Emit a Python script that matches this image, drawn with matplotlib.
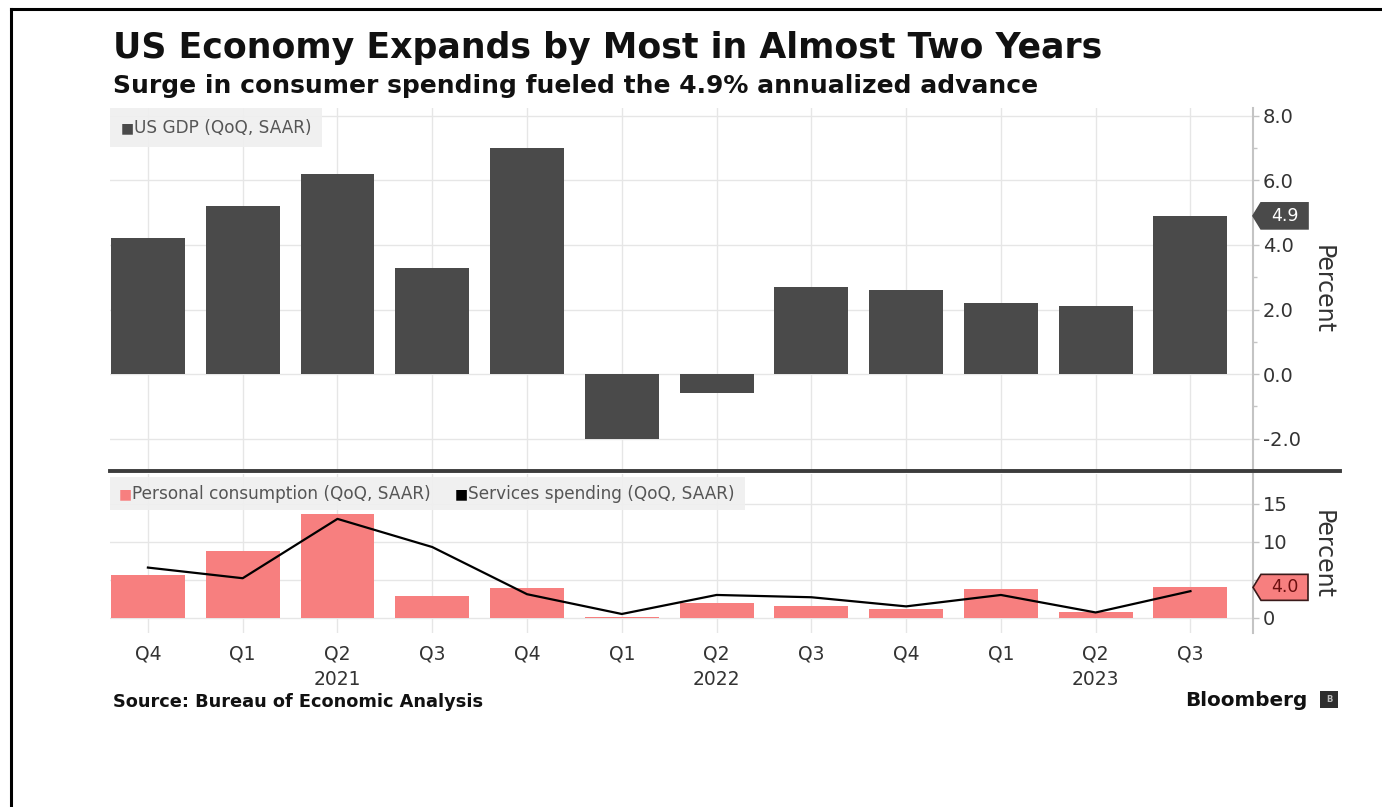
import matplotlib
matplotlib.use("Agg")
import matplotlib.pyplot as plt
import matplotlib.transforms as mtransforms
from matplotlib.patches import Polygon, Rectangle
from matplotlib.lines import Line2D
from matplotlib.ticker import MultipleLocator
import numpy as np

# --- Data ---
QUARTERS = ["Q4", "Q1", "Q2", "Q3", "Q4", "Q1", "Q2", "Q3", "Q4", "Q1", "Q2", "Q3"]
YEARS = ["", "", "2021", "", "", "", "2022", "", "", "", "2023", ""]
GDP = [4.2, 5.2, 6.2, 3.3, 7.0, -2.0, -0.6, 2.7, 2.6, 2.2, 2.1, 4.9]
CONSUMPTION = [5.6, 8.8, 13.6, 2.8, 3.9, 0.1, 2.0, 1.6, 1.2, 3.8, 0.8, 4.0]
SERVICES = [6.6, 5.2, 13.0, 9.3, 3.1, 0.5, 3.0, 2.7, 1.5, 3.0, 0.7, 3.5]

TITLE = "US Economy Expands by Most in Almost Two Years"
SUBTITLE = "Surge in consumer spending fueled the 4.9% annualized advance"
SOURCE = "Source: Bureau of Economic Analysis"

# --- Style ---
W, H = 1382, 807
DARK = "#4a4a4a"
PINK = "#f77f7f"
GRID = "#e6e6e6"
SPINE = "#c4c4c4"
TEXT = "#333333"


def fx(px):
    return px / W


def fy(py):
    return 1 - py / H


def value_tag(fig, ax, value, label, face, edge, text_color):
    # Bloomberg style last-value tag sitting on the right axis
    x0, y0 = ax.transData.transform((ax.get_xlim()[1], value))
    hh, depth, width = 13, 8, 55
    verts = [(x0, y0), (x0 + depth, y0 + hh), (x0 + width, y0 + hh),
             (x0 + width, y0 - hh), (x0 + depth, y0 - hh)]
    fig.add_artist(Polygon(verts, closed=True, facecolor=face, edgecolor=edge,
                           lw=1.2, transform=mtransforms.IdentityTransform(), zorder=5))
    fig.text((x0 + depth / 2 + width / 2) / W, y0 / H, label, ha="center", va="center",
             fontsize=12.5, color=text_color, zorder=6)


fig = plt.figure(figsize=(W / 100, H / 100), dpi=100)
fig.patch.set_facecolor("white")

# outer frame (left and top edges only)
fig.add_artist(Line2D([fx(11), fx(11)], [0, fy(9)], color="black", lw=2.2))
fig.add_artist(Line2D([fx(11), 1], [fy(9), fy(9)], color="black", lw=2.2))

x = np.arange(len(QUARTERS))
ax1 = fig.add_axes([fx(110), fy(470), (1253 - 110) / W, (470 - 108) / H])
ax2 = fig.add_axes([fx(110), fy(633), (1253 - 110) / W, (633 - 474) / H])

for ax in (ax1, ax2):
    ax.set_xlim(-0.4, 11.66)
    for s in ("left", "top", "bottom"):
        ax.spines[s].set_visible(False)
    ax.spines["right"].set_color(SPINE)
    ax.spines["right"].set_linewidth(1.5)
    ax.yaxis.tick_right()
    ax.tick_params(axis="y", which="both", direction="out", colors=SPINE,
                   labelcolor=TEXT, labelsize=14, width=1)
    ax.tick_params(axis="y", which="major", length=4, pad=3)
    ax.tick_params(axis="y", which="minor", length=3)
    ax.set_xticks(x)
    ax.grid(True, which="major", color=GRID, lw=1)
    ax.set_axisbelow(True)

# --- Top panel: GDP ---
ax1.bar(x, GDP, width=0.78, color=DARK, zorder=2)
ax1.set_ylim(-2.97, 8.24)
gdp_ticks = [-2, 0, 2, 4, 6, 8]
ax1.set_yticks(gdp_ticks)
ax1.set_yticklabels([f"{v:.1f}" for v in gdp_ticks])
ax1.yaxis.set_minor_locator(MultipleLocator(1))
ax1.tick_params(axis="x", length=0, labelbottom=False)

# --- Bottom panel: consumption and services ---
ax2.bar(x, CONSUMPTION, width=0.78, color=PINK, zorder=2)
ax2.plot(x, SERVICES, color="black", lw=1.6, zorder=3)
ax2.set_ylim(-2.0, 18.9)
ax2.set_yticks([0, 5, 10, 15])
ax2.set_yticklabels(["0", "", "10", "15"])
ax2.set_xticklabels([f"{q}\n{y}" if y else q for q, y in zip(QUARTERS, YEARS)],
                    fontsize=13.5, color=TEXT, linespacing=1.45)
ax2.tick_params(axis="x", length=0, pad=8)

# separator between panels
fig.add_artist(Line2D([fx(110), fx(1340)], [fy(471), fy(471)], color="#3c3c3c", lw=2.8))

# legends
fig.add_artist(Rectangle((fx(110), fy(147)), (322 - 110) / W, (147 - 108) / H,
                         facecolor="#efefef", edgecolor="none", alpha=0.9))
fig.text(fx(121), fy(128), "■", color=DARK, fontsize=10, va="center")
fig.text(fx(134), fy(128), "US GDP (QoQ, SAAR)", color="#555555", fontsize=12.2, va="center")

fig.add_artist(Rectangle((fx(110), fy(510)), (745 - 110) / W, (510 - 477) / H,
                         facecolor="#efefef", edgecolor="none", alpha=0.9))
fig.text(fx(119), fy(494), "■", color=PINK, fontsize=10, va="center")
fig.text(fx(132), fy(494), "Personal consumption (QoQ, SAAR)", color="#555555",
         fontsize=12.2, va="center")
fig.text(fx(455), fy(494), "■", color="black", fontsize=10, va="center")
fig.text(fx(468), fy(494), "Services spending (QoQ, SAAR)", color="#555555",
         fontsize=12.2, va="center")

# last value tags
value_tag(fig, ax1, GDP[-1], f"{GDP[-1]:.1f}", DARK, DARK, "white")
value_tag(fig, ax2, CONSUMPTION[-1], f"{CONSUMPTION[-1]:.1f}", PINK, "#3a1a1a", "#6b0f0f")

# axis titles
fig.text(fx(1323), fy(289), "Percent", rotation=270, fontsize=17, color=TEXT,
         ha="center", va="center")
fig.text(fx(1323), fy(554), "Percent", rotation=270, fontsize=17, color=TEXT,
         ha="center", va="center")

# titles and footer
fig.text(fx(113), fy(48), TITLE, fontsize=25, weight="bold", color="#111111", va="center")
fig.text(fx(113), fy(86), SUBTITLE, fontsize=18, weight="bold", color="#111111", va="center")
fig.text(fx(113), fy(702), SOURCE, fontsize=12.8, weight="bold", color="#111111", va="center")
fig.text(fx(1307), fy(700), "Bloomberg", fontsize=14.4, weight="bold", color="#111111",
         ha="right", va="center")
fig.add_artist(Rectangle((fx(1320), fy(708)), 18 / W, 17 / H, facecolor="#2e2e2e",
                         edgecolor="none"))
fig.text(fx(1329), fy(699), "B", fontsize=6, color="#bbbbbb", ha="center", va="center",
         weight="bold")

fig.savefig("out.png", dpi=100)
